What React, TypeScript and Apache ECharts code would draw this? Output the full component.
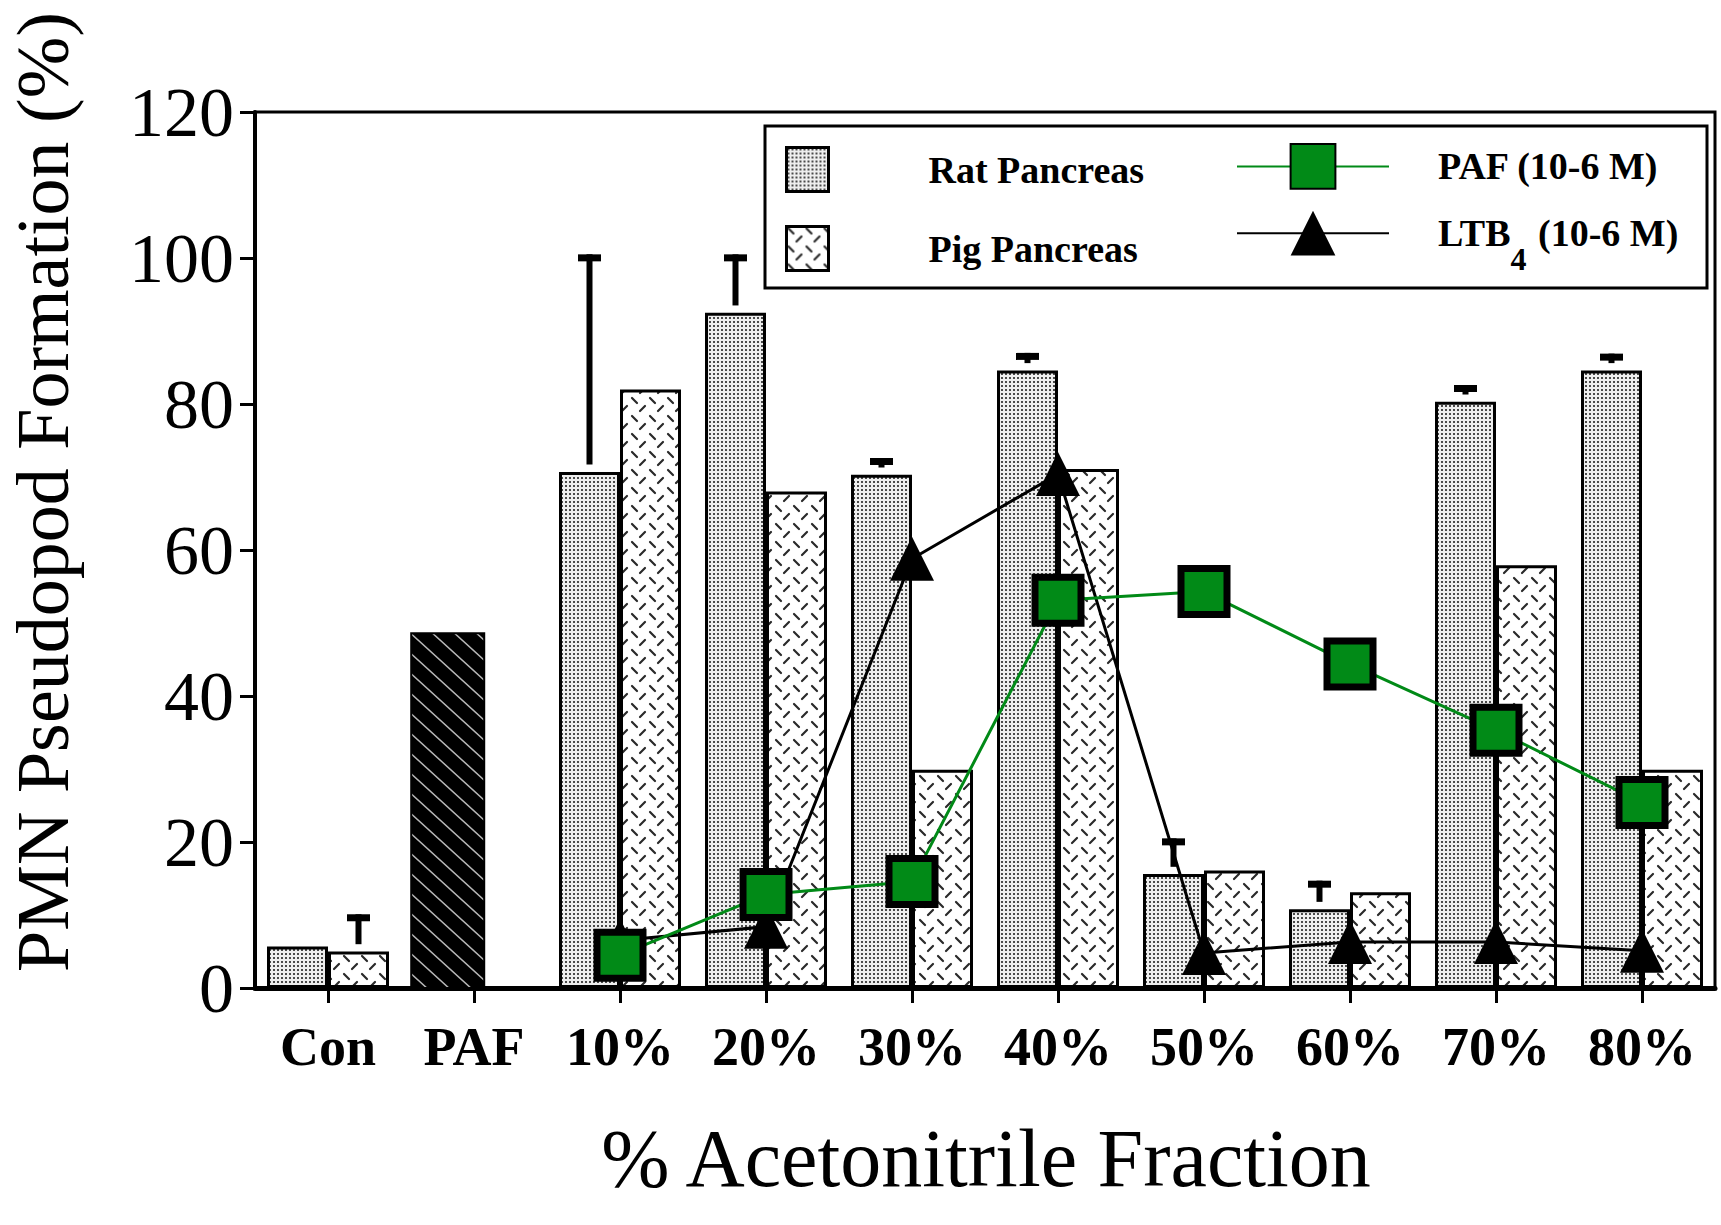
import React, { useEffect, useRef } from 'react';
import * as echarts from 'echarts';

const categories = ['Con', 'PAF', '10%', '20%', '30%', '40%', '50%', '60%', '70%', '80%'];
const ratPancreas = [5.7, null, 70.7, 92.5, 70.3, 84.6, 15.6, 10.8, 80.3, 84.6];
const ratError = [null, null, 29.8, 8.0, 2.3, 2.4, 4.9, 3.9, 2.3, 2.3];
const pigPancreas = [5.0, null, 82.0, 68.0, 29.9, 71.1, 16.1, 13.1, 57.9, 29.9];
const pigError = [5.1, null, null, null, null, null, null, null, null, null];
const pafControl = [null, 48.6, null, null, null, null, null, null, null, null];
const pafSeries = [null, null, 4.5, 12.8, 14.6, 53.1, 54.3, 44.4, 35.3, 25.4];
const ltb4Series = [null, null, 6.5, 8.4, 58.8, 70.4, 4.8, 6.3, 6.3, 5.1];

const Y_MIN = 0;
const Y_MAX = 120;
const Y_STEP = 20;

const SERIF = "'Liberation Serif', 'Times New Roman', serif";
const GREEN = '#018a17';
const BAR_W = 61;

function makePattern(w: number, h: number, draw: (ctx: CanvasRenderingContext2D) => void) {
  const c = document.createElement('canvas');
  c.width = w;
  c.height = h;
  const ctx = c.getContext('2d') as CanvasRenderingContext2D;
  draw(ctx);
  return { image: c.toDataURL(), repeat: 'repeat', imageWidth: w, imageHeight: h } as any;
}

export default function App() {
  const ref = useRef<HTMLDivElement>(null);

  useEffect(() => {
    if (!ref.current) return;
    const chart = echarts.init(ref.current, null, { renderer: 'svg' });

    const ratPattern = makePattern(4, 4, (ctx) => {
      ctx.fillStyle = '#eeeeee';
      ctx.fillRect(0, 0, 4, 4);
      ctx.fillStyle = '#4a4a4a';
      ctx.fillRect(1, 1, 2, 2);
    });
    const pigPattern = makePattern(18, 18, (ctx) => {
      ctx.fillStyle = '#ffffff';
      ctx.fillRect(0, 0, 18, 18);
      ctx.strokeStyle = '#2a2a2a';
      ctx.lineWidth = 2.2;
      ctx.lineCap = 'round';
      ctx.beginPath();
      ctx.moveTo(2, 2);
      ctx.lineTo(7, 7);
      ctx.moveTo(10, 15);
      ctx.lineTo(15, 10);
      ctx.stroke();
    });
    const blackPattern = makePattern(22, 20, (ctx) => {
      ctx.fillStyle = '#000';
      ctx.fillRect(0, 0, 22, 20);
      ctx.strokeStyle = '#b8b8b8';
      ctx.lineWidth = 1.5;
      ctx.beginPath();
      ctx.moveTo(-11, -10);
      ctx.lineTo(33, 30);
      ctx.moveTo(-33, -10);
      ctx.lineTo(11, 30);
      ctx.moveTo(11, -10);
      ctx.lineTo(55, 30);
      ctx.stroke();
    });

    const errData: any[] = [];
    ratError.forEach((e, i) => {
      if (e != null && ratPancreas[i] != null) errData.push([i, ratPancreas[i], e, -1]);
    });
    pigError.forEach((e, i) => {
      if (e != null && pigPancreas[i] != null) errData.push([i, pigPancreas[i], e, 1]);
    });

    const pafControlData: any[] = [];
    pafControl.forEach((v, i) => {
      if (v != null) pafControlData.push([i, v]);
    });

    const toSeries = (arr: (number | null)[]) => arr.map((v) => (v == null ? '-' : v));

    const option: any = {
      animation: false,
      backgroundColor: '#ffffff',
      grid: {
        left: 255,
        top: 112,
        width: 1460,
        height: 876,
        show: true,
        borderColor: '#000',
        borderWidth: 3,
        backgroundColor: 'transparent',
      },
      xAxis: {
        type: 'category',
        data: categories,
        boundaryGap: true,
        axisLine: { show: true, lineStyle: { color: '#000', width: 5 } },
        axisTick: { show: true, alignWithLabel: true, length: 15, lineStyle: { color: '#000', width: 3 } },
        axisLabel: {
          color: '#000',
          fontFamily: SERIF,
          fontWeight: 'bold',
          fontSize: 54,
          margin: 32,
        },
        splitLine: { show: false },
      },
      yAxis: {
        type: 'value',
        min: Y_MIN,
        max: Y_MAX,
        interval: Y_STEP,
        axisLine: { show: true, lineStyle: { color: '#000', width: 4 } },
        axisTick: { show: true, length: 15, lineStyle: { color: '#000', width: 3 } },
        axisLabel: { color: '#000', fontFamily: SERIF, fontSize: 70, margin: 21 },
        splitLine: { show: false },
      },
      legend: [
        {
          data: ['Rat Pancreas', 'Pig Pancreas'],
          orient: 'vertical',
          left: 780,
          top: 141,
          itemWidth: 42,
          itemHeight: 44,
          itemGap: 32,
          icon: 'rect',
          selectedMode: false,
          itemStyle: { borderColor: '#000', borderWidth: 3 },
          textStyle: {
            color: '#000',
            fontFamily: SERIF,
            fontWeight: 'bold',
            fontSize: 38,
            padding: [0, 0, 0, 95],
          },
        },
        {
          data: ['PAF (10-6 M)', 'LTB4 (10-6 M)'],
          orient: 'vertical',
          left: 1231,
          top: 138,
          itemWidth: 152,
          itemHeight: 56,
          itemGap: 21,
          selectedMode: false,
          formatter: (name: string) =>
            name === 'LTB4 (10-6 M)' ? '{m|LTB}{s|4}{m| (10-6 M)}' : '{m|' + name + '}',
          textStyle: {
            color: '#000',
            fontFamily: SERIF,
            fontWeight: 'bold',
            fontSize: 38,
            padding: [0, 0, 0, 44],
            rich: {
              m: { fontFamily: SERIF, fontWeight: 'bold', fontSize: 38, color: '#000', verticalAlign: 'middle' },
              s: {
                fontFamily: SERIF,
                fontWeight: 'bold',
                fontSize: 32,
                color: '#000',
                verticalAlign: 'middle',
                padding: [52, 2, 0, 0],
              },
            },
          },
        },
      ],
      graphic: [
        {
          type: 'rect',
          z: 1,
          shape: { x: 765, y: 126, width: 942, height: 162 },
          style: { fill: '#fff', stroke: '#000', lineWidth: 3 },
        },
        {
          type: 'text',
          x: 43,
          y: 492,
          rotation: Math.PI / 2,
          style: {
            text: 'PMN Pseudopod Formation (%)',
            fontFamily: SERIF,
            fontSize: 74,
            fill: '#000',
            align: 'center',
            verticalAlign: 'middle',
          },
        },
        {
          type: 'text',
          x: 986,
          y: 1158,
          style: {
            text: '% Acetonitrile Fraction',
            fontFamily: SERIF,
            fontSize: 82,
            fill: '#000',
            align: 'center',
            verticalAlign: 'middle',
          },
        },
      ],
      series: [
        {
          name: 'Rat Pancreas',
          type: 'bar',
          data: toSeries(ratPancreas),
          barWidth: BAR_W,
          barGap: '0%',
          itemStyle: { color: ratPattern, borderColor: '#000', borderWidth: 3 },
          z: 2,
        },
        {
          name: 'Pig Pancreas',
          type: 'bar',
          data: toSeries(pigPancreas),
          barWidth: BAR_W,
          barGap: '0%',
          itemStyle: { color: pigPattern, borderColor: '#000', borderWidth: 3 },
          z: 2,
        },
        {
          name: 'PAF control',
          type: 'custom',
          data: pafControlData,
          encode: { x: 0, y: 1 },
          z: 2,
          renderItem: (params: any, api: any) => {
            const idx = api.value(0);
            const v = api.value(1);
            const base = api.coord([idx, 0]);
            const top = api.coord([idx, v]);
            const band = api.size([1, 0])[0];
            return {
              type: 'rect',
              shape: { x: base[0] - 0.43 * band, y: top[1], width: 0.5 * band, height: base[1] - top[1] },
              style: { fill: blackPattern, stroke: '#000', lineWidth: 2 },
            };
          },
        },
        {
          name: 'Error',
          type: 'custom',
          data: errData,
          encode: { x: 0, y: 1 },
          z: 3,
          renderItem: (params: any, api: any) => {
            const i = api.value(0);
            const v = api.value(1);
            const e = api.value(2);
            const side = api.value(3);
            const b = api.coord([i, v + 1.0]);
            const t = api.coord([i, v + e]);
            const x = b[0] + (side * BAR_W) / 2;
            return {
              type: 'group',
              children: [
                {
                  type: 'rect',
                  shape: { x: x - 3, y: t[1], width: 6, height: Math.max(0, b[1] - t[1]) },
                  style: { fill: '#000' },
                },
                {
                  type: 'rect',
                  shape: { x: x - 11.5, y: t[1], width: 23, height: 7 },
                  style: { fill: '#000' },
                },
              ],
            };
          },
        },
        {
          name: 'LTB4 (10-6 M)',
          type: 'line',
          data: toSeries(ltb4Series),
          symbol: 'triangle',
          symbolSize: 44,
          itemStyle: { color: '#000' },
          lineStyle: { color: '#000', width: 3 },
          z: 4,
        },
        {
          name: 'PAF (10-6 M)',
          type: 'line',
          data: toSeries(pafSeries),
          symbol: 'rect',
          symbolSize: 46,
          itemStyle: { color: GREEN, borderColor: '#000', borderWidth: 7 },
          lineStyle: { color: GREEN, width: 3 },
          z: 5,
        },
      ],
    };

    chart.setOption(option);
    return () => {
      chart.dispose();
    };
  }, []);

  return (
    <div
      ref={ref}
      style={{ position: 'absolute', left: 0, top: 0, width: 1721, height: 1225, background: '#fff' }}
    />
  );
}
